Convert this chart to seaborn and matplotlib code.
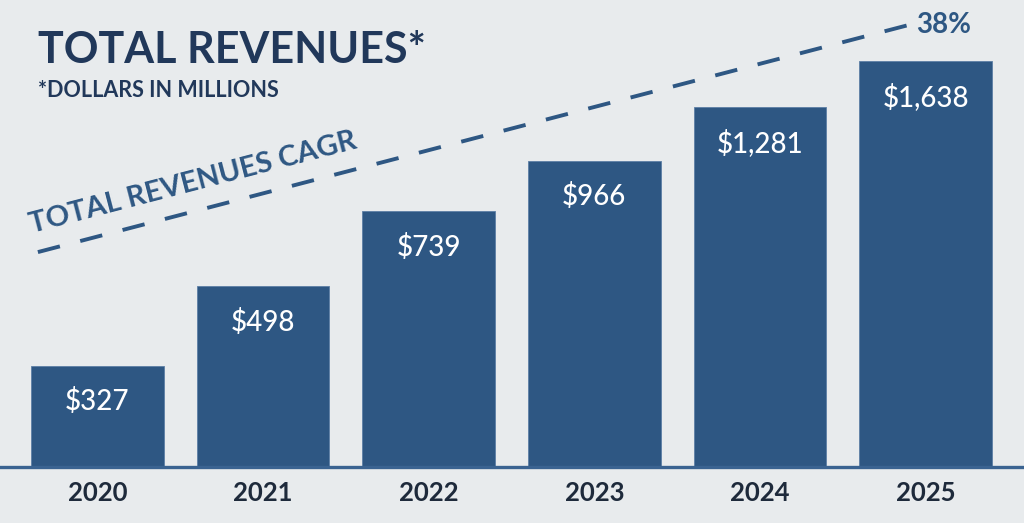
import matplotlib
matplotlib.use("Agg")
import matplotlib.pyplot as plt
import seaborn as sns

years = ["2020", "2021", "2022", "2023", "2024", "2025"]
revenues = [327, 498, 739, 966, 1281, 1638]
value_labels = ["$327", "$498", "$739", "$966", "$1,281", "$1,638"]
title = "TOTAL REVENUES*"
subtitle = "*DOLLARS IN MILLIONS"
cagr_label = "TOTAL REVENUES CAGR"
cagr_value = "38%"

BG = "#e8ebed"
BAR = "#2e5783"
NAVY = "#21385a"
DARK = "#1e2a3b"

sns.set_theme(style="white")
plt.rcParams["font.family"] = ["Lato", "DejaVu Sans"]

fig = plt.figure(figsize=(10.24, 5.23), dpi=100, facecolor=BG)
ax = fig.add_axes([0, 0.107, 1, 0.893])
ax.set_facecolor(BG)

sns.barplot(x=years, y=revenues, color=BAR, width=0.8, saturation=1,
            edgecolor="#5d7fa6", linewidth=0.6, ax=ax)
# bars in the source are not to linear scale; a log axis comes close
ax.set_yscale("log")
ax.set_ylim(191.4, 2258)
ax.set_xlim(-0.587, 5.593)

for i, (v, lab) in enumerate(zip(revenues, value_labels)):
    ax.annotate(lab, xy=(i, v), xytext=(0, -26), textcoords="offset points",
                ha="center", va="center", color="white", fontsize=20,
                fontweight="medium")

for s in ["top", "right", "left"]:
    ax.spines[s].set_visible(False)
ax.spines["bottom"].set_color("#3a6391")
ax.spines["bottom"].set_linewidth(2.4)
ax.set_yticks([])
ax.yaxis.set_minor_locator(matplotlib.ticker.NullLocator())
ax.tick_params(axis="x", length=0, pad=10, labelsize=18.5, labelcolor=DARK)
for t in ax.get_xticklabels():
    t.set_fontweight("bold")
ax.set_xlabel("")
ax.set_ylabel("")

# header text
fig.text(0.037, 0.880, title, fontsize=31, fontweight="bold", color=NAVY,
         ha="left", va="baseline")
fig.text(0.037, 0.815, subtitle, fontsize=15.5, fontweight="bold", color=NAVY,
         ha="left", va="baseline")

# CAGR dashed line
fig.lines.append(matplotlib.lines.Line2D([0.037, 0.887], [0.518, 0.952],
                 transform=fig.transFigure, color=BAR, linewidth=2.8,
                 dashes=(5.85, 5.4)))
fig.text(0.031, 0.554, cagr_label, fontsize=21, fontweight="bold", color=BAR,
         rotation=14.6, rotation_mode="anchor", ha="left", va="baseline")
fig.text(0.895, 0.952, cagr_value, fontsize=20, fontweight="bold", color=BAR,
         ha="left", va="center")

fig.savefig("out.png", dpi=100, facecolor=BG)
